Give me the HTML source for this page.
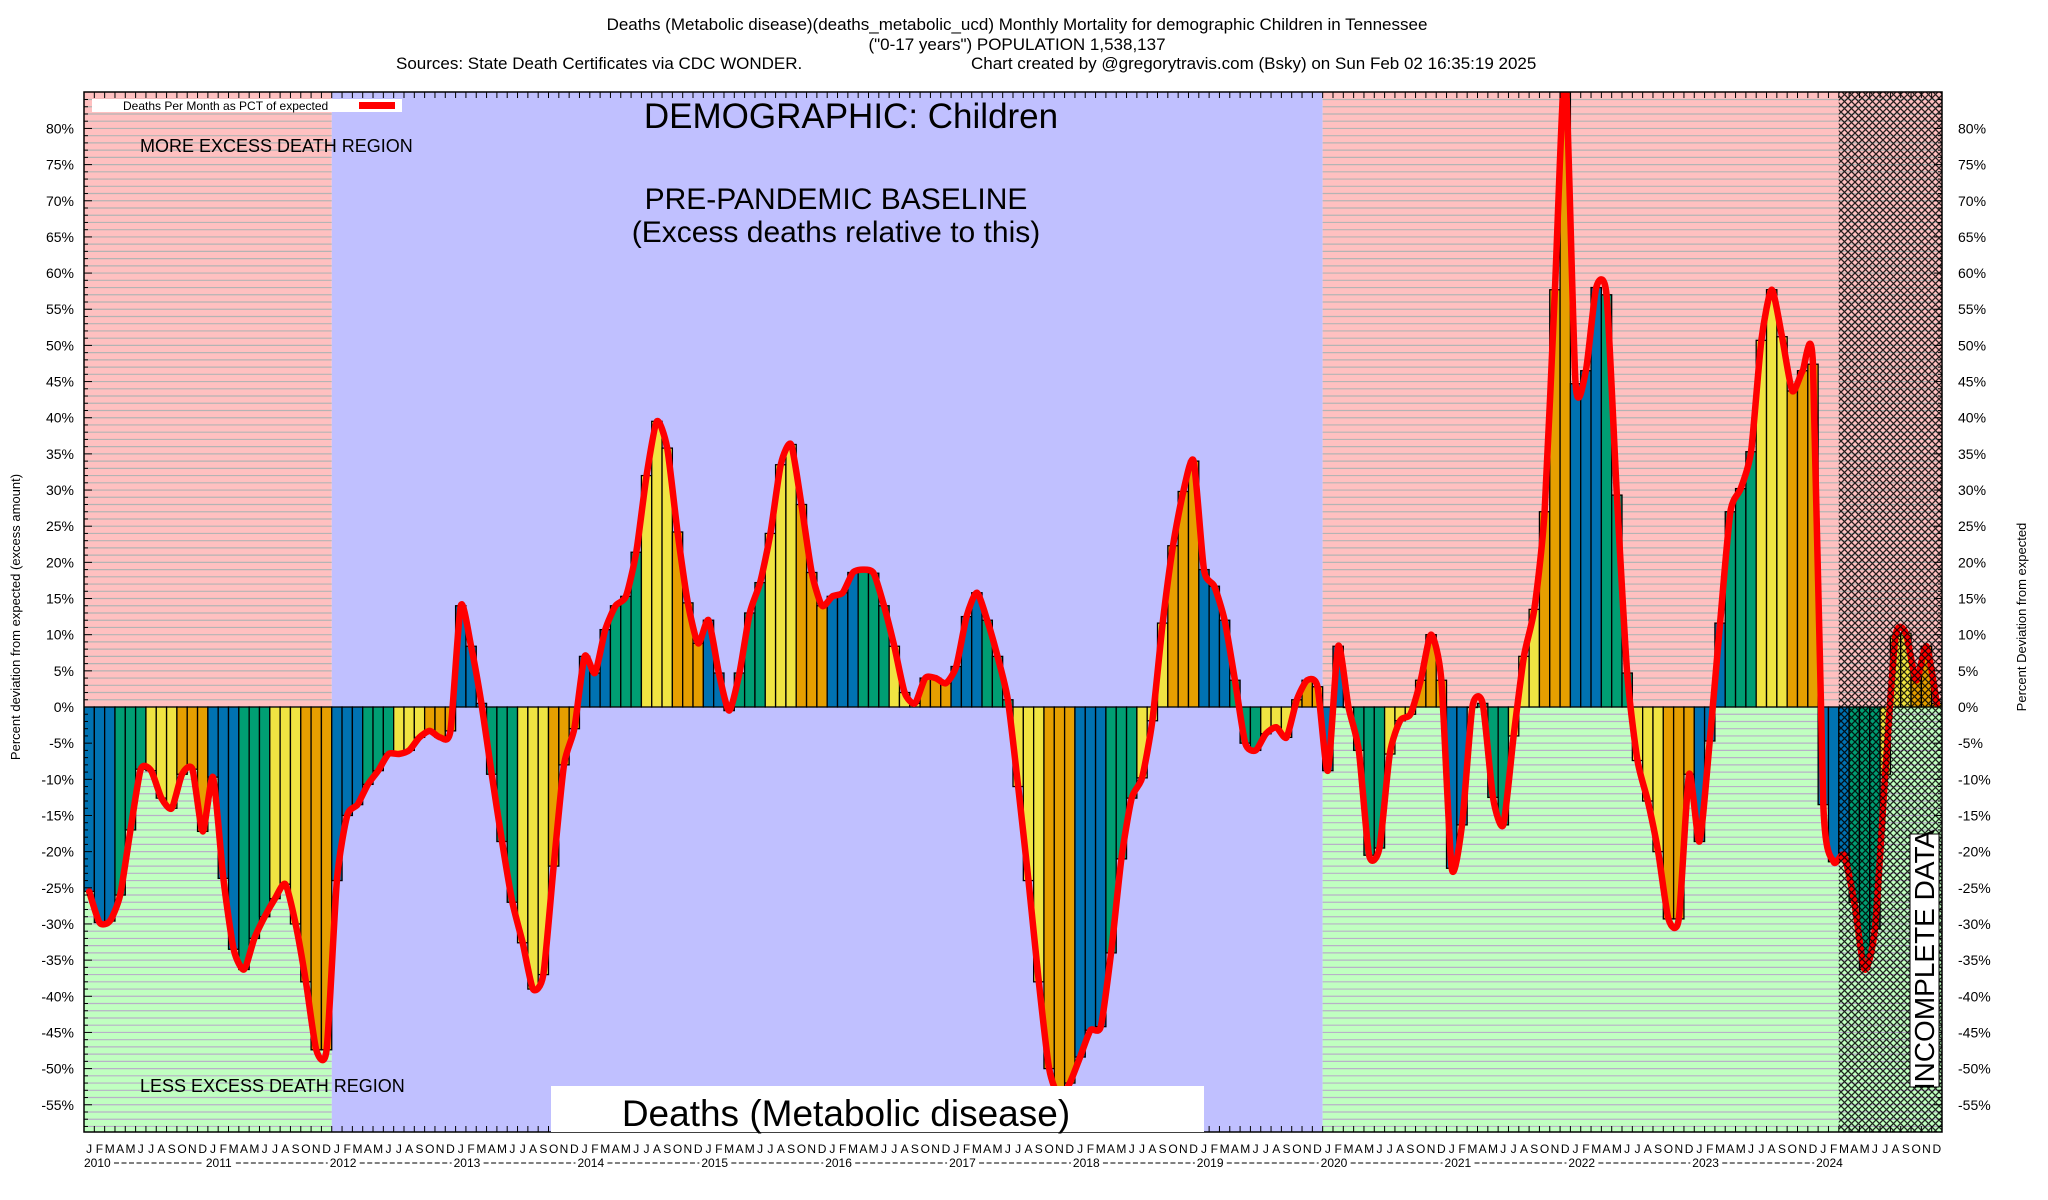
<!DOCTYPE html>
<html><head><meta charset="utf-8"><style>
html,body{margin:0;padding:0;background:#fff;}
svg{display:block;font-family:"Liberation Sans",Arial,sans-serif;}
</style></head><body>
<svg id="chart" width="2048" height="1200" viewBox="0 0 2048 1200" xmlns="http://www.w3.org/2000/svg">
<defs>
<pattern id="hatch" patternUnits="userSpaceOnUse" width="7" height="7">
<path d="M0,0 L7,7 M7,0 L0,7" stroke="#000" stroke-width="1.3" fill="none"/>
</pattern>
<clipPath id="plotclip"><rect x="84" y="92" width="1858" height="1040"/></clipPath>
</defs>
<g id="bg"></g>
<g id="grid"></g>
<g id="bars" clip-path="url(#plotclip)"></g>
<g id="line" clip-path="url(#plotclip)"></g>
<g id="over"></g>
<g id="axes"></g>
<g id="texts">
<text x="1017" y="30" font-size="17" text-anchor="middle">Deaths (Metabolic disease)(deaths_metabolic_ucd) Monthly Mortality for demographic Children in Tennessee</text>
<text x="1017" y="50" font-size="17" text-anchor="middle">("0-17 years") POPULATION 1,538,137</text>
<text x="396" y="69" font-size="17">Sources: State Death Certificates via CDC WONDER.</text>
<text x="971" y="69" font-size="17">Chart created by @gregorytravis.com (Bsky) on Sun Feb 02 16:35:19 2025</text>
<text x="140" y="152" font-size="18">MORE EXCESS DEATH REGION</text>
<text x="140" y="1092" font-size="18">LESS EXCESS DEATH REGION</text>
<text x="851" y="128" font-size="35" text-anchor="middle">DEMOGRAPHIC: Children</text>
<text x="836" y="209" font-size="30" text-anchor="middle">PRE-PANDEMIC BASELINE</text>
<text x="836" y="242" font-size="30" text-anchor="middle">(Excess deaths relative to this)</text>
<rect x="551" y="1086" width="653" height="46" fill="#fff"/>
<text x="846" y="1126" font-size="37" text-anchor="middle">Deaths (Metabolic disease)</text>
<rect x="92" y="99" width="310" height="13" fill="#fff"/>
<text x="123" y="110" font-size="12">Deaths Per Month as PCT of expected</text>
<rect x="359" y="102" width="36" height="7" fill="#ff0000"/>
<g>
<rect x="1910" y="834" width="29" height="253" fill="#fff" stroke="#000" stroke-width="1"/>
<text x="1934" y="960" font-size="28" text-anchor="middle" transform="rotate(-90 1934 960)">INCOMPLETE DATA</text>
</g>
<text x="20" y="617" font-size="13" text-anchor="middle" transform="rotate(-90 20 617)">Percent deviation from expected (excess amount)</text>
<text x="2026" y="617" font-size="13" text-anchor="middle" transform="rotate(-90 2026 617)">Percent Deviation from expected</text>
</g>
</svg>
<script>
const months = ["J","F","M","A","M","J","J","A","S","O","N","D"];
const years = [2010,2011,2012,2013,2014,2015,2016,2017,2018,2019,2020,2021,2022,2023,2024];
const yTicks = [80,75,70,65,60,55,50,45,40,35,30,25,20,15,10,5,0,-5,-10,-15,-20,-25,-30,-35,-40,-45,-50,-55];
const v2010 = [-25.5,-29.8,-29.6,-26,-17,-8.6,-8.8,-12.6,-14,-9.3,-8.6,-17.2];
const v2011 = [-9.7,-23.7,-33.5,-36.3,-32,-29,-26.5,-24.5,-30,-38,-47.4,-47.4];
const v2012 = [-24,-15,-13.5,-10.7,-8.8,-6.5,-6.5,-6,-4.2,-3.3,-4.2,-3.3];
const v2013 = [14,8.4,0.5,-9.3,-18.6,-27,-32.6,-39,-37,-22,-8,-3];
const v2014 = [7,4.7,10.7,14,15.3,21.4,32,39.5,35.8,24.2,14.4,8.8];
const v2015 = [12,4.7,-0.5,4.7,13,17.2,24,33.5,36.3,28,18.6,14];
const v2016 = [15.3,15.8,18.6,19,18.5,14,8.4,2,0.5,4,4,3.3];
const v2017 = [5.6,12.5,15.8,12,7,1,-11,-24,-38,-50,-54,-52];
const v2018 = [-48.4,-44.7,-44.2,-34,-21,-12.6,-9.8,-1.9,11.6,22.3,29.8,34];
const v2019 = [19,16.7,12,3.7,-5,-6,-3.7,-2.8,-4.2,1,3.7,2.8];
const v2020 = [-8.8,8.4,0,-6,-20.5,-19.5,-6.5,-1.9,-1,3.7,10,3.7];
const v2021 = [-22.3,-16.3,0,0.5,-12.5,-16.3,-4,7,13.5,27,57.7,88];
const v2022 = [44.7,46.5,58,57,29.3,4.7,-7.4,-13,-20,-29.3,-29.3,-9.3];
const v2023 = [-18.6,-4.7,11.6,27,30.2,35.3,50.7,57.7,51.2,43.7,46.5,47.4];
const v2024 = [-13.5,-21.4,-20.5,-27,-36.3,-30.7,-9.3,9.8,10.2,3.7,8.4,0.5];
const values = [].concat(v2010,v2011,v2012,v2013,v2014,v2015,v2016,v2017,v2018,v2019,v2020,v2021,v2022,v2023,v2024);

const NS = "http://www.w3.org/2000/svg";
const PL = 84, PR = 1942, PT = 92, PB = 1132;
const N = years.length * 12;
const MW = (PR - PL) / N;
const Y0 = 707, PXP = 7.232;
function xs(i){ return PL + i * MW; }
function ys(v){ return Y0 - v * PXP; }
function mk(tag, attrs, parent){
  const e = document.createElementNS(NS, tag);
  for (const k in attrs) e.setAttribute(k, attrs[k]);
  parent.appendChild(e);
  return e;
}
const bg = document.getElementById('bg');
const grid = document.getElementById('grid');
const barsG = document.getElementById('bars');
const lineG = document.getElementById('line');
const over = document.getElementById('over');
const axes = document.getElementById('axes');

const x2012 = xs(24), x2020 = xs(120);
let r;
r = mk('rect',{x:PL,y:PT,width:x2012-PL,height:Y0-PT,fill:'#ffc0c0'},bg);


r = mk('rect',{x:PL,y:Y0,width:x2012-PL,height:PB-Y0,fill:'#c0ffc0'},bg);


r = mk('rect',{x:x2012,y:PT,width:x2020-x2012,height:PB-PT,fill:'#c0c0ff'},bg);


r = mk('rect',{x:x2020,y:PT,width:PR-x2020,height:Y0-PT,fill:'#ffc0c0'},bg);


r = mk('rect',{x:x2020,y:Y0,width:PR-x2020,height:PB-Y0,fill:'#c0ffc0'},bg);



for (let p = 84; p >= -58; p--) {
  const y = ys(p);
  if (y < PT || y > PB) continue;
  const col = p > 0 ? '#b4b4b4' : '#b8b0c8';
  let l = mk('line',{x1:PL,x2:x2012,y1:y,y2:y,stroke:col,'stroke-width':1.2},grid);
  
  
  l = mk('line',{x1:x2020,x2:PR,y1:y,y2:y,stroke:col,'stroke-width':1.2},grid);
  
  
}

const qColors = ['#0072b2','#009e73','#f0e442','#e69f00'];
values.forEach((v, i) => {
  const x = xs(i);
  const y1 = ys(Math.max(v,0)), y2 = ys(Math.min(v,0));
  const b = mk('rect',{x:x,y:y1,width:MW,height:Math.max(y2-y1,0.5),fill:qColors[Math.floor((i%12)/3)],stroke:'#000','stroke-width':1.3},barsG);
  
  
});

const pts = values.map((v,i)=>[xs(i)+MW/2, ys(v)]);
let d = 'M' + pts[0][0] + ',' + pts[0][1];
const T = 9;
for (let i = 0; i < pts.length-1; i++) {
  const p0 = pts[Math.max(i-1,0)], p1 = pts[i], p2 = pts[i+1], p3 = pts[Math.min(i+2,pts.length-1)];
  const c1x = p1[0] + (p2[0]-p0[0])/T, c1y = p1[1] + (p2[1]-p0[1])/T;
  const c2x = p2[0] - (p3[0]-p1[0])/T, c2y = p2[1] - (p3[1]-p1[1])/T;
  d += ' C' + c1x + ',' + c1y + ' ' + c2x + ',' + c2y + ' ' + p2[0] + ',' + p2[1];
}
const ln = mk('path',{d:d,fill:'none',stroke:'#ff0000','stroke-width':6.5,'stroke-linejoin':'round','stroke-linecap':'round'},lineG);



const hx = xs(170);
const h = mk('rect',{x:hx,y:PT,width:PR-hx,height:PB-PT,fill:'url(#hatch)',opacity:0.85},over);



const fr = mk('rect',{x:PL,y:PT,width:PR-PL,height:PB-PT,fill:'none',stroke:'#000','stroke-width':1.5},axes);


for (let p = 84; p >= -58; p--) {
  const y = ys(p);
  const major = (p % 5 === 0);
  const len = major ? 8 : 4;
  let t = mk('line',{x1:PL,x2:PL+len,y1:y,y2:y,stroke:'#000','stroke-width':1},axes);
  
  
  t = mk('line',{x1:PR-len,x2:PR,y1:y,y2:y,stroke:'#000','stroke-width':1},axes);
  
  
}
yTicks.forEach(p => {
  const y = ys(p) + 5;
  let t = mk('text',{x:74,y:y,'font-size':14,'text-anchor':'end'},axes);
  t.textContent = p + '%';
  
  
  t = mk('text',{x:1958,y:y,'font-size':14},axes);
  t.textContent = p + '%';
  
  
});
for (let i = 0; i <= N; i++) {
  const x = xs(i);
  let t = mk('line',{x1:x,x2:x,y1:PT,y2:PT+6,stroke:'#000','stroke-width':1},axes);
  
  
  t = mk('line',{x1:x,x2:x,y1:PB-6,y2:PB,stroke:'#000','stroke-width':1},axes);
  
  
}
for (let i = 0; i < N; i++) {
  const t = mk('text',{x:xs(i)+MW/2,y:1153,'font-size':12,'text-anchor':'middle'},axes);
  t.textContent = months[i%12];
  
  
}
years.forEach((yr, k) => {
  const x = k === 0 ? PL : xs(k*12) - 2;
  const t = mk('text',{x:x,y:1167,'font-size':12},axes);
  t.textContent = yr;
  
  
  if (k < years.length - 1) {
    const dl = mk('line',{x1:x+30,x2:xs((k+1)*12)-4,y1:1163,y2:1163,stroke:'#000','stroke-width':1,'stroke-dasharray':'5,2.5'},axes);
    
    
  }
});
</script>
</body></html>
